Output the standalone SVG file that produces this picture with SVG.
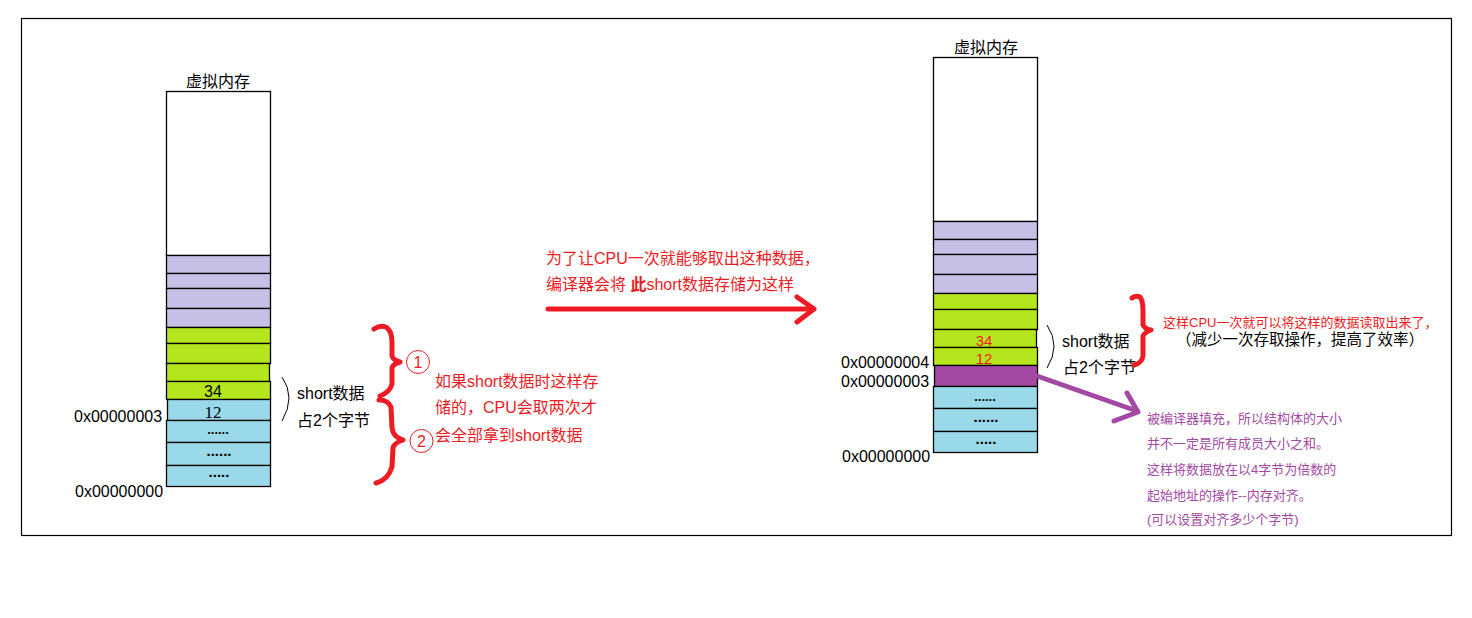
<svg xmlns="http://www.w3.org/2000/svg" width="1472" height="618" viewBox="0 0 1472 618">
<style>
text{font-family:"Liberation Sans","Noto Sans CJK SC",sans-serif;}
.k{fill:#000;font-size:16px;}
.r{fill:#ed1c24;}
.p{fill:#a349a4;font-size:13px;}
.cell{stroke:#000;stroke-width:1.3;}
.w{fill:#fff;}
.lv{fill:#c8bfe7;}
.gr{fill:#b5e61d;}
.bl{fill:#99d9ea;}
.pu{fill:#a349a4;}
.dots{font-size:15px;font-weight:bold;fill:#000;text-anchor:middle;}
.brace{fill:none;stroke:#ed1c24;stroke-width:5;stroke-linecap:round;stroke-linejoin:round;}
.thin{fill:none;stroke:#000;stroke-width:1;}
</style>
<rect x="21.5" y="18.5" width="1430" height="517" fill="#fff" stroke="#000" stroke-width="1.2"/>

<g id="left-memory">
<text class="k" x="218" y="87" text-anchor="middle">虚拟内存</text>
<rect class="cell w" x="166.5" y="91.5" width="104" height="164"/>
<rect class="cell lv" x="166.5" y="255.5" width="104" height="18"/>
<rect class="cell lv" x="166.5" y="273.5" width="104" height="15"/>
<rect class="cell lv" x="166.5" y="288.5" width="104" height="20"/>
<rect class="cell lv" x="166.5" y="308.5" width="104" height="19"/>
<rect class="cell gr" x="166.5" y="327.5" width="104" height="16"/>
<rect class="cell gr" x="166.5" y="343.5" width="104" height="20"/>
<rect class="cell gr" x="166.5" y="363.5" width="103" height="18"/>
<rect class="cell gr" x="166.5" y="381.5" width="104" height="18"/>
<rect class="cell bl" x="167.5" y="399.5" width="103" height="21"/>
<rect class="cell bl" x="166.5" y="420.5" width="104" height="22"/>
<rect class="cell bl" x="166.5" y="442.5" width="104" height="23"/>
<rect class="cell bl" x="166.5" y="465.5" width="104" height="21"/>
<text class="k" x="213" y="397" text-anchor="middle">34</text>
<text x="213" y="418" text-anchor="middle" style="font-family:'Liberation Serif',serif;font-size:17px;fill:#000">12</text>
<text class="dots" x="218" y="434" style="font-size:13px">......</text>
<text class="dots" x="219" y="456">......</text>
<text class="dots" x="219" y="477">.....</text>
<text class="k" x="74" y="422">0x00000003</text>
<text class="k" x="75" y="497">0x00000000</text>
<path class="thin" d="M282,377 Q296,397 282,421"/>
<text class="k" x="297" y="399">short数据</text>
<text class="k" x="297" y="426">占2个字节</text>
</g>

<g id="left-note">
<path class="brace" d="M374,329 Q380,325 386,327 Q392,331 392,342 L392,356 Q393,360 400,362 Q393,364 392,368 L392,384 Q390,392 380,396"/>
<path class="brace" d="M379,400 Q388,400 391,407 L392,428 Q393,437 403,440 Q394,443 393,448 L392,467 Q388,480 376,483"/>
<circle cx="418" cy="362" r="11.5" fill="none" stroke="#ed1c24" stroke-width="1"/>
<text x="418" y="368" text-anchor="middle" class="r" style="font-size:16px">1</text>
<circle cx="421.5" cy="441" r="11.5" fill="none" stroke="#ed1c24" stroke-width="1"/>
<text x="421.5" y="447" text-anchor="middle" class="r" style="font-size:16px">2</text>
<text class="r" x="435" y="387" style="font-size:16px">如果short数据时这样存</text>
<text class="r" x="435" y="413" style="font-size:16px">储的，CPU会取两次才</text>
<text class="r" x="435" y="441" style="font-size:16px">会全部拿到short数据</text>
</g>

<g id="middle-note">
<text class="r" x="546" y="264" style="font-size:16px">为了让CPU一次就能够取出这种数据，</text>
<text class="r" x="546" y="290" style="font-size:16px">编译器会将 <tspan font-weight="bold">此</tspan>short数据存储为这样</text>
</g>

<g id="right-memory">
<text class="k" x="986" y="53" text-anchor="middle">虚拟内存</text>
<rect class="cell w" x="933.5" y="57.5" width="104" height="164"/>
<rect class="cell lv" x="933.5" y="221.5" width="104" height="18"/>
<rect class="cell lv" x="933.5" y="239.5" width="104" height="15"/>
<rect class="cell lv" x="933.5" y="254.5" width="104" height="20"/>
<rect class="cell lv" x="933.5" y="274.5" width="104" height="19"/>
<rect class="cell gr" x="933.5" y="293.5" width="104" height="16"/>
<rect class="cell gr" x="933.5" y="309.5" width="104" height="20"/>
<rect class="cell gr" x="933.5" y="329.5" width="103" height="18"/>
<rect class="cell gr" x="933.5" y="347.5" width="104" height="18"/>
<rect class="cell pu" x="934.5" y="365.5" width="103" height="21"/>
<rect class="cell bl" x="933.5" y="386.5" width="104" height="22"/>
<rect class="cell bl" x="933.5" y="408.5" width="104" height="23"/>
<rect class="cell bl" x="933.5" y="431.5" width="104" height="21"/>
<text class="r" x="984" y="346" text-anchor="middle" style="font-size:15px">34</text>
<text class="r" x="984" y="364" text-anchor="middle" style="font-size:15px">12</text>
<text class="dots" x="985" y="401" style="font-size:13px">......</text>
<text class="dots" x="986" y="422">......</text>
<text class="dots" x="986" y="444">.....</text>
<text class="k" x="841" y="368">0x00000004</text>
<text class="k" x="841" y="387">0x00000003</text>
<text class="k" x="842" y="462">0x00000000</text>
<path class="thin" d="M1047,325 Q1061,346 1047,368"/>
<text class="k" x="1062" y="347">short数据</text>
<text class="k" x="1063" y="373">占2个字节</text>
</g>

<g id="right-note">
<path class="brace" d="M1132,298 Q1136,295 1140,297 Q1143,301 1143,310 L1143,325 Q1145,329 1151,330 Q1145,332 1143,336 L1143,356 Q1142,363 1134,365"/>
<text class="r" x="1163" y="327" style="font-size:13px">这样CPU一次就可以将这样的数据读取出来了，</text>
<text x="1176" y="345" style="font-size:15.5px;fill:#000">（减少一次存取操作，提高了效率）</text>
</g>

<g id="padding-note">
<text class="p" x="1147" y="423">被编译器填充，所以结构体的大小</text>
<text class="p" x="1147" y="448">并不一定是所有成员大小之和。</text>
<text class="p" x="1147" y="474">这样将数据放在以4字节为倍数的</text>
<text class="p" x="1147" y="500">起始地址的操作--内存对齐。</text>
<text class="p" x="1147" y="524">(可以设置对齐多少个字节)</text>
</g>

<g id="connectors">
<line x1="548" y1="309" x2="812" y2="309" stroke="#ed1c24" stroke-width="5" stroke-linecap="round"/>
<polyline points="797,297 814,309 797,322" fill="none" stroke="#ed1c24" stroke-width="5" stroke-linecap="round" stroke-linejoin="round"/>
<line x1="1037" y1="376" x2="1137" y2="411" stroke="#a349a4" stroke-width="5" stroke-linecap="round"/>
<polyline points="1127,393 1138,412 1114,421" fill="none" stroke="#a349a4" stroke-width="5" stroke-linecap="round" stroke-linejoin="round"/>
</g>
</svg>
